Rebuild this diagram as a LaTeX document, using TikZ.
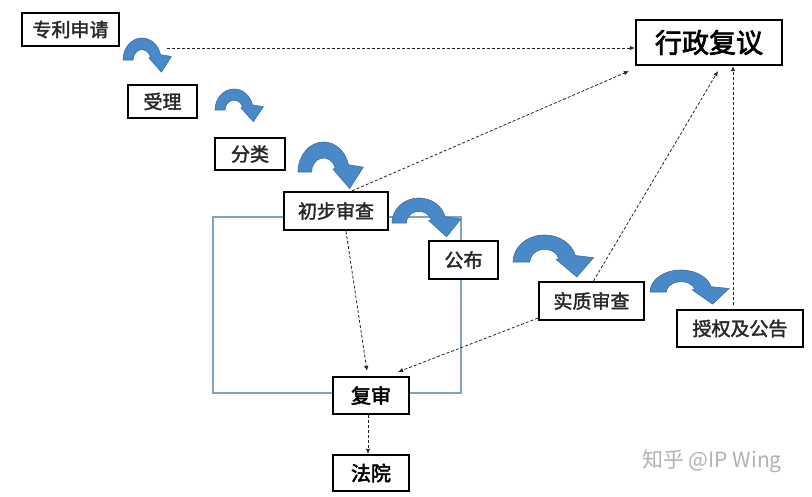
\documentclass[tikz,border=0pt]{standalone}
\usepackage{fontspec}
\usetikzlibrary{arrows.meta,calc}
\newfontfamily\cjk[FakeBold=2]{Noto Sans CJK SC}
\newfontfamily\cjkh[FakeBold=2.6]{Noto Sans CJK SC}
\newfontfamily\cjkw{Noto Sans CJK SC}
\definecolor{arrowblue}{RGB}{74,137,200}
\definecolor{arrowedge}{RGB}{58,108,165}
\definecolor{framebl}{RGB}{125,165,190}
\definecolor{txtgray}{RGB}{40,40,40}
\newcommand\bluecurve[4]{%
  \begin{scope}[shift={(#1,#2)},xscale=#3,yscale=-#4]
    \filldraw[fill=arrowblue,draw=arrowedge,line width=0.6pt,line join=round]
      (-1,0) arc[start angle=180,end angle=14,radius=1]
      -- (1.55,0.16) -- (1.02,-0.55) -- (0.36,0.1)
      -- (14:0.47) arc[start angle=14,end angle=180,radius=0.47] -- cycle;
  \end{scope}}
\begin{document}
\begin{tikzpicture}[x=1pt,y=-1pt,
  box/.style={draw=black,line width=2.2pt,fill=white,inner sep=0pt,
    text=txtgray,font=\cjk\fontsize{19}{19}\selectfont},
  bigbox/.style={box,text=black,font=\cjkh\fontsize{27}{27}\selectfont},
  midbox/.style={box,text=black,font=\cjkh\fontsize{20}{20}\selectfont},
  dline/.style={draw=black!85,line width=0.8pt,dash pattern=on 3pt off 2pt,
    -{Latex[length=5pt,width=4.5pt]}}]
\useasboundingbox (0,0) rectangle (812,496);
\fill[white] (0,0) rectangle (812,496);
% watermark
\node[text=black!30,font=\cjkw\fontsize{21}{21}\selectfont,anchor=center] (wm) at (712,461) {知乎 @IP Wing};
% blue frame
\draw[framebl,line width=1.1pt] (213,217) rectangle (461,393);
% curved arrows
\bluecurve{142}{60}{19}{22}
\bluecurve{234}{110}{19}{21}
\bluecurve{323.6}{172}{25.6}{30}
\bluecurve{419}{223}{27}{25}
\bluecurve{544.6}{262}{31.6}{27}
\bluecurve{681}{292}{31}{22}
% boxes
\node[box,minimum width=97pt,minimum height=33pt] (zl) at (70.5,29.5) {专利申请};
\node[box,minimum width=69pt,minimum height=33pt] (sl) at (162.5,101.5) {受理};
\node[box,minimum width=70pt,minimum height=32pt] (fl) at (250,154) {分类};
\node[box,minimum width=104pt,minimum height=38pt] (cb) at (336,211) {初步审查};
\node[box,minimum width=69pt,minimum height=38pt] (gb) at (463.5,260) {公布};
\node[box,minimum width=105pt,minimum height=38pt] (sz) at (591.5,301) {实质审查};
\node[box,minimum width=126pt,minimum height=37pt] (sq) at (740,328.5) {授权及公告};
\node[bigbox,minimum width=146pt,minimum height=45pt] (xz) at (709,42.5) {行政复议};
\node[midbox,minimum width=76pt,minimum height=37pt] (fs) at (371,395.5) {复审};
\node[midbox,minimum width=76pt,minimum height=36pt] (fy) at (371,473) {法院};
% dashed connectors
\coordinate (s1) at (167,48);
\draw[dline] (s1) -- (s1 -| xz.west);
\draw[dline] ($(cb.north)+(16,0)$) -- ($(xz.south west)+(-6,5)$);
\draw[dline] ($(sz.north)+(2,0)$) -- ($(xz.south)+(9,5)$);
\draw[dline] ($(sq.north)+(-7,-4)$) coordinate (q4) -- (q4 |- xz.south);
\draw[dline] ($(cb.south)+(10,0)$) -- ($(fs.north)+(-4,-5)$);
\draw[dline] ($(sz.south west)+(0,-3)$) -- ($(fs.north east)+(-12,-4)$);
\draw[dline] ($(fs.south)+(-3,0)$) -- ($(fy.north)+(-3,0)$);
\end{tikzpicture}
\end{document}
